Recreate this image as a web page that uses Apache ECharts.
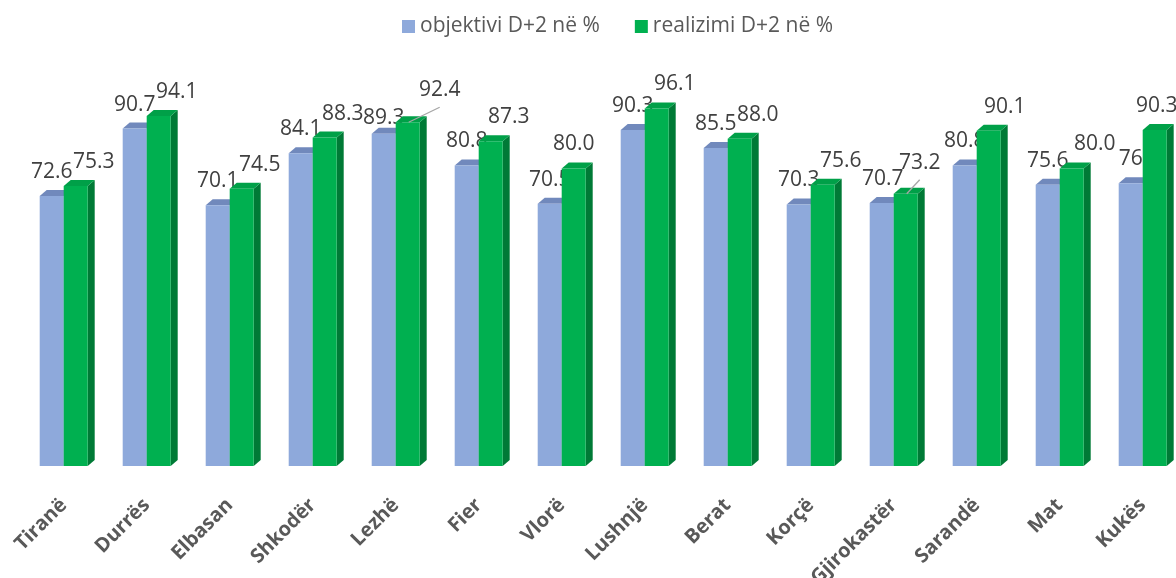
<!DOCTYPE html>
<html>
<head>
<meta charset="utf-8">
<script src="https://cdn.jsdelivr.net/npm/echarts@6/dist/echarts.min.js"></script>
<style>
  html, body { margin: 0; padding: 0; background: #ffffff; }
  #chart { width: 1176px; height: 578px; }
</style>
</head>
<body>
<div id="chart"></div>
<script>
// Districts along the axis
const districts = ['Tiranë', 'Durrës', 'Elbasan', 'Shkodër', 'Lezhë', 'Fier', 'Vlorë',
  'Lushnjë', 'Berat', 'Korçë', 'Gjirokastër', 'Sarandë', 'Mat', 'Kukës'];

// Values exactly as they are printed on the bars
const objektivi = ['72.6', '90.7', '70.1', '84.1', '89.3', '80.8', '70.5',
  '90.3', '85.5', '70.3', '70.7', '80.8', '75.6', '76'];
const realizimi = ['75.3', '94.1', '74.5', '88.3', '92.4', '87.3', '80.0',
  '96.1', '88.0', '75.6', '73.2', '90.1', '80.0', '90.3'];

const seriesNames = ['objektivi D+2 në %', 'realizimi D+2 në %'];

// Horizontal nudges of the value labels (px from the bar centre)
const shiftObjektivi = [0, 0, 0, 0, 0, 0, 0, 0, 0, 0, 1, 0, 0, 0];
const shiftRealizimi = [18, 18, 18, 18, 0, 18, 0, 18, 18, 18, 0, 16, 23, 2];
// Labels placed away from the default spot: index -> [dx, dy] from the bar top
const movedObjektivi = { 4: [0, -16] };
const movedRealizimi = { 4: [32, -32], 10: [14, -31] };
// Which of the moved labels get a leader line
const leaderRealizimi = { 4: true, 10: true };

const BAR_W = 24;   // front face width
const DX = 7;       // depth offset to the right
const DY = 6;       // depth offset upwards
const LABEL_GAP = 24;

const faces = [
  { front: '#8EA9DB', top: '#7189BC', side: '#6F86B6' },
  { front: '#00B050', top: '#00A048', side: '#007A36' }
];

function makeRender(k, texts, shifts, moved, leaders) {
  return function (params, api) {
    const i = api.value(0);
    const v = api.value(1);
    const topPt = api.coord([i, v]);
    const basePt = api.coord([i, 0]);
    const x0 = k === 0 ? topPt[0] - BAR_W : topPt[0];
    const ty = topPt[1];
    const by = basePt[1];
    const c = faces[k];
    const children = [
      { type: 'polygon', shape: { points: [[x0 + BAR_W, ty], [x0 + BAR_W + DX, ty - DY], [x0 + BAR_W + DX, by - DY], [x0 + BAR_W, by]] },
        style: { fill: c.side } },
      { type: 'polygon', shape: { points: [[x0, ty], [x0 + BAR_W, ty], [x0 + BAR_W + DX, ty - DY], [x0 + DX, ty - DY]] },
        style: { fill: c.top } },
      { type: 'rect', shape: { x: x0, y: ty, width: BAR_W, height: by - ty },
        style: { fill: c.front } }
    ];
    const cx = x0 + BAR_W / 2;
    let lx = cx + shifts[i];
    let ly = ty - LABEL_GAP;
    if (moved && moved[i]) {
      lx = cx + moved[i][0];
      ly = ty + moved[i][1];
      if (leaders && leaders[i]) {
        children.push({
          type: 'line',
          shape: { x1: cx + 1, y1: ty, x2: lx, y2: ly + 17 },
          style: { stroke: '#A6A6A6', lineWidth: 1.3 }
        });
      }
    }
    children.push({
      type: 'text',
      x: lx, y: ly,
      style: {
        text: texts[i],
        fill: '#404040',
        font: '21px "Open Sans", sans-serif',
        align: 'center',
        verticalAlign: 'middle'
      }
    });
    return { type: 'group', children: children };
  };
}

const chart = echarts.init(document.getElementById('chart'));
chart.setOption({
  animation: false,
  backgroundColor: '#ffffff',
  legend: {
    top: 11,
    left: 397,
    itemWidth: 13,
    itemHeight: 13,
    itemGap: 35,
    icon: 'rect',
    textStyle: { color: '#595959', fontSize: 21, fontFamily: 'Open Sans' },
    data: seriesNames
  },
  grid: { left: 22.2, top: 94, width: 1162, height: 372, outerBoundsMode: 'none', containLabel: false },
  xAxis: {
    type: 'category',
    data: districts,
    axisLine: { show: false },
    axisTick: { show: false },
    axisLabel: {
      rotate: 45,
      interval: 0,
      margin: 36,
      color: '#595959',
      fontSize: 20,
      fontWeight: 'bold',
      fontFamily: 'Open Sans'
    }
  },
  yAxis: { type: 'value', min: 0, max: 100, show: false, splitLine: { show: false } },
  series: [
    {
      name: seriesNames[0],
      type: 'custom',
      itemStyle: { color: faces[0].front },
      data: objektivi.map((t, i) => [i, Number(t)]),
      renderItem: makeRender(0, objektivi, shiftObjektivi, movedObjektivi, null)
    },
    {
      name: seriesNames[1],
      type: 'custom',
      itemStyle: { color: faces[1].front },
      data: realizimi.map((t, i) => [i, Number(t)]),
      renderItem: makeRender(1, realizimi, shiftRealizimi, movedRealizimi, leaderRealizimi)
    }
  ]
});
</script>
</body>
</html>
